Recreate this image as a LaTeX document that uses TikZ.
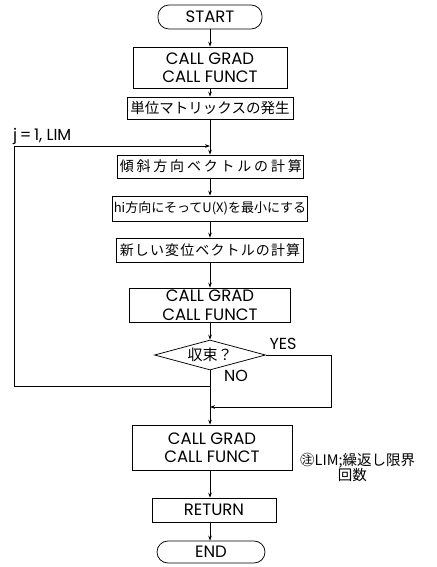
\documentclass[tikz,border=0pt]{standalone}
\usepackage{fontspec}
\setmainfont{Poppins}
\newfontfamily\jp{Noto Sans CJK JP}
\newfontfamily\jpw{Noto Sans CJK JP}[LetterSpace=20]
\newfontfamily\jpm{Noto Sans CJK JP}[LetterSpace=8]
\usetikzlibrary{shapes.geometric,arrows.meta}
\begin{document}
\begin{tikzpicture}[x=1pt,y=-1pt,
  ln/.style={line width=0.75pt},
  arr/.style={ln,-{Stealth[length=5pt,width=3.6pt]}},
  box/.style={draw,ln,inner sep=1pt,align=center},
  term/.style={draw,ln,rounded corners=11pt,inner sep=1pt},
  lat/.style={font=\fontsize{16.5}{18.5}\selectfont},
  jtxt/.style={font=\jp\fontsize{14.5}{16}\selectfont},
  lab/.style={font=\fontsize{16}{18}\selectfont,inner sep=0pt}]
\useasboundingbox (0,0) rectangle (436,567);
\node[term,lat,minimum width=104pt,minimum height=24pt] (start) at (210,17) {START};
\node[box,lat,minimum width=154pt,minimum height=41pt] (b1) at (210,67.5) {CALL GRAD\\CALL FUNCT};
\node[box,jtxt,minimum width=166pt,minimum height=22pt] (b2) at (210,108) {単位マトリックスの発生};
\node[box,font=\jpw\fontsize{14}{16}\selectfont,minimum width=186pt,minimum height=23pt] (b3) at (210,166.5) {\hspace*{0.12em}傾斜方向ベクトルの計算};
\node[box,font=\jp\fontsize{13}{16}\selectfont,minimum width=190pt,minimum height=25pt] (b4) at (210,208.5) {hi方向にそってU(X)を最小にする};
\node[box,font=\jpm\fontsize{14}{16}\selectfont,minimum width=187pt,minimum height=24pt] (b5) at (210,250) {新しい変位ベクトルの計算};
\node[box,lat,minimum width=161pt,minimum height=34pt] (b6) at (210,305) {CALL GRAD\\CALL FUNCT};
\node[draw,ln,diamond,inner sep=0pt,minimum width=111pt,minimum height=30pt,aspect=3.7,font=\jp\fontsize{15}{16}\selectfont] (dia) at (210,355) {収束？};
\node[box,lat,minimum width=160pt,minimum height=45pt] (b7) at (212,447.5) {CALL GRAD\\CALL FUNCT};
\node[box,lat,minimum width=124pt,minimum height=24pt] (ret) at (214,510) {RETURN};
\node[term,lat,minimum width=108pt,minimum height=22pt] (end) at (211,552) {END};
% labels
\node[lab,anchor=west] (jl) at (13,136) {j\,=\,1, LIM};
\node[lab] (yes) at (283,344) {YES};
\node[lab] (no) at (236,376) {NO};
\node[font=\jp\fontsize{14.5}{15}\selectfont,align=left,inner sep=0pt,anchor=west] (note) at (300,467) {㊟LIM;繰返し限界\\\hspace*{2.6em}回数};
% coordinates
\coordinate (jn) at (210,146);
\coordinate (lt) at (14,146);
\coordinate (tap) at (210,386);
\coordinate (yj) at (210,407);
\coordinate (yx) at (331,407);
% connectors
\draw[arr] (start) -- (b1);
\draw[arr] (b1) -- (b2);
\draw[ln] (b2) -- (jn);
\draw[arr] (jn) -- (b3);
\draw[arr] (b3) -- (b4);
\draw[arr] (b4) -- (b5);
\draw[arr] (b5) -- (b6);
\draw[arr] (b6) -- (dia);
\draw[arr] (dia.south) -- (dia.south |- b7.north);
\draw[arr] (dia.east) -| (yx) -- (yj);
\draw[arr] (tap) -| (lt) -- (jn);
\draw[arr] (b7.south -| dia.south) -- (dia.south |- ret.north);
\draw[arr] (dia.south |- ret.south) -- (dia.south |- end.north);
\end{tikzpicture}
\end{document}
